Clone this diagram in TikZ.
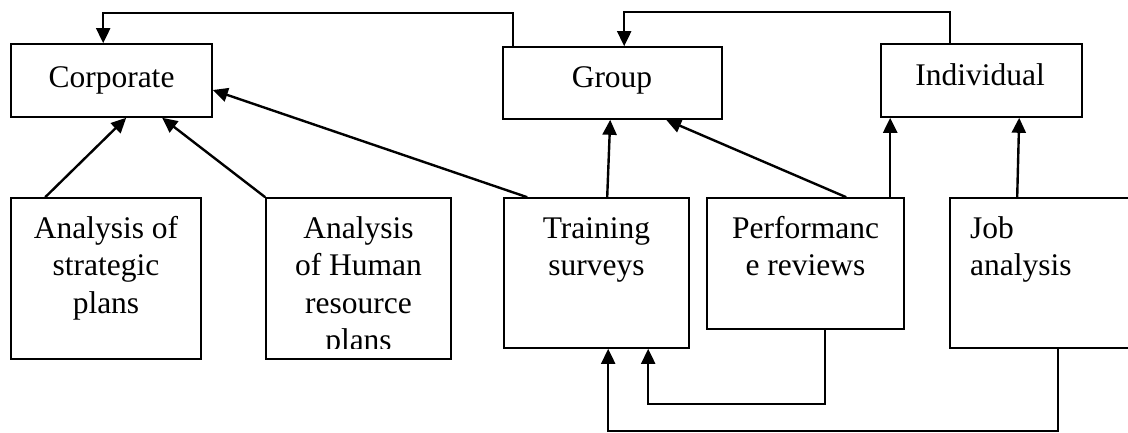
\documentclass[tikz,border=0pt]{standalone}
\usepackage{fontspec}
\setmainfont{Liberation Serif}
\usetikzlibrary{arrows.meta,calc}
\begin{document}
\begin{tikzpicture}[x=1pt,y=-1pt,
  box/.style={draw=black, line width=1.6pt, rectangle, inner sep=0pt},
  lbl/.style={inner sep=0pt, font=\fontsize{31.5}{37.5}\selectfont},
  conn/.style={line width=2.4pt, -{Triangle[length=15pt,width=14pt]}},
  fb/.style={line width=2pt, -{Triangle[length=15pt,width=14pt]}}]
\clip (0,0) rectangle (1128,432);
\fill[white] (0,0) rectangle (1128,432);
% boxes
\node[box, minimum width=201pt, minimum height=73pt] (corp) at (111.5,80.5) {};
\node[box, minimum width=219pt, minimum height=72pt] (group) at (612.5,83) {};
\node[box, minimum width=201pt, minimum height=73pt] (indiv) at (981.5,80.5) {};
\node[box, minimum width=190pt, minimum height=161pt] (strat) at (106,278.5) {};
\node[box, minimum width=185pt, minimum height=161pt] (hr) at (358.5,278.5) {};
\node[box, minimum width=185pt, minimum height=150pt] (train) at (596.5,273) {};
\node[box, minimum width=197pt, minimum height=131pt] (perf) at (805.5,263.5) {};
\node[box, minimum width=190pt, minimum height=150pt] (job) at (1045,273) {};
% labels
\node[lbl, anchor=base] (corpt) at (111.5,87) {Corporate};
\node[lbl, anchor=base] (groupt) at (612,87) {Group};
\node[lbl, anchor=base] (indivt) at (980,85) {Individual};
\node[lbl, anchor=north, align=center] (stratt) at (106,216) {\rule{0pt}{22pt}Analysis of\\strategic\\plans};
\begin{scope}
\clip (hr.north west) rectangle ($(hr.south east)+(0,-11)$);
\node[lbl, anchor=north, align=center] (hrt) at (358.5,216) {\rule{0pt}{22pt}Analysis\\of Human\\resource\\plans};
\end{scope}
\node[lbl, anchor=north, align=center] (traint) at (596.5,216) {\rule{0pt}{22pt}Training\\surveys};
\node[lbl, anchor=north, align=center] (perft) at (805.5,216) {\rule{0pt}{22pt}Performanc\\e reviews};
\node[lbl, anchor=north west, align=left] (jobt) at (970,216) {\rule{0pt}{22pt}Job\\analysis};
% connectors
\draw[conn] ($(strat.north west)+(35,0)$) -- ($(corp.south west)+(116,0)$);
\draw[conn] (hr.north west) -- ($(corp.south west)+(152,0)$);
\draw[conn] ($(train.north west)+(24,0)$) -- ($(corp.east)+(0,9.5)$);
\draw[conn] ($(train.north west)+(104,0)$) -- ($(group.south west)+(108,0)$);
\draw[conn] ($(perf.north west)+(140,0)$) -- ($(group.south west)+(164,0)$);
\draw[conn] ($(perf.north west)+(184,0)$) -- ($(indiv.south west)+(10,0)$);
\draw[conn] ($(job.north west)+(68,0)$) -- ($(indiv.south west)+(139,0)$);
\draw[fb] ($(group.north west)+(11,0)$) -- ++(0,-33) -| ($(corp.north west)+(93,0)$);
\draw[fb] ($(indiv.north west)+(70,0)$) -- ++(0,-31) -| ($(group.north west)+(122,0)$);
\draw[fb] ($(perf.south west)+(119,0)$) -- ++(0,74) -| ($(train.south west)+(145,0)$);
\draw[fb] ($(job.south west)+(109,0)$) -- ++(0,82) -| ($(train.south west)+(105,0)$);
\end{tikzpicture}
\end{document}
